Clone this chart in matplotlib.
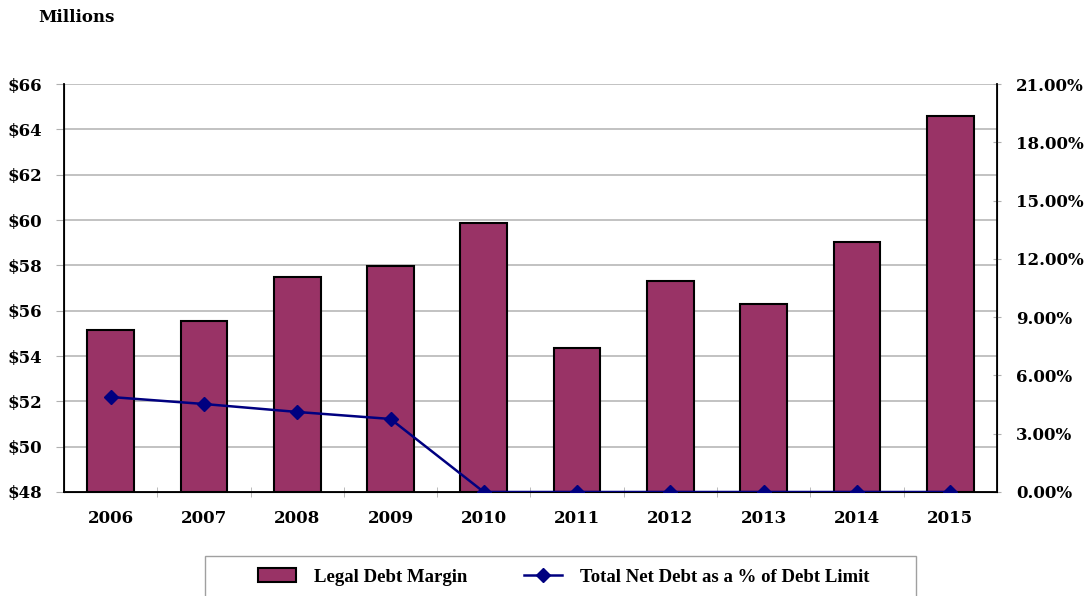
import matplotlib
matplotlib.use('Agg')
import matplotlib.pyplot as plt
from matplotlib.patches import Rectangle
from matplotlib.ticker import FixedLocator

plt.rcParams['font.family'] = 'DejaVu Serif'
plt.rcParams['font.weight'] = 'bold'

years = ['2006', '2007', '2008', '2009', '2010', '2011', '2012', '2013', '2014', '2015']
debt_margin = [55.15, 55.55, 57.48, 57.97, 59.88, 54.35, 57.31, 56.29, 59.03, 64.59]  # $ millions
net_debt_pct = [4.89, 4.53, 4.12, 3.76, 0.0, 0.0, 0.0, 0.0, 0.0, 0.0]  # % of debt limit

bar_color = '#993366'
line_color = '#000080'

fig = plt.figure(figsize=(10.91, 5.96), dpi=100)
ax = fig.add_axes([0.0587, 0.1745, 0.855, 0.6845])

x = list(range(len(years)))

# bars start at 48, the bottom of the axis
ax.bar(x, [v - 48 for v in debt_margin], bottom=48, width=0.5,
       color=bar_color, edgecolor='black', linewidth=1.5, zorder=3,
       label='Legal Debt Margin')
ax.set_ylim(48, 66)
ax.set_xlim(-0.5, len(years) - 0.5)
ax.set_yticks(range(48, 67, 2))
ax.set_yticklabels(['$%d' % v for v in range(48, 67, 2)], fontsize=12, fontweight='bold')
ax.yaxis.grid(True, color='#b8b8b8', linewidth=1.2, zorder=0)
ax.set_axisbelow(True)

ax.set_xticks(x)
ax.set_xticklabels(years, fontsize=12, fontweight='bold')
ax.tick_params(axis='x', which='major', length=0, pad=13)
ax.xaxis.set_minor_locator(FixedLocator([i + 0.5 for i in range(len(years) - 1)]))
ax.tick_params(axis='x', which='minor', length=7, color='#b0b0b0', direction='inout')
ax.tick_params(axis='y', length=6, color='#b0b0b0', pad=10)

ax.spines['top'].set_visible(False)
ax.spines['left'].set_linewidth(1.3)
ax.spines['bottom'].set_linewidth(1.3)

ax2 = ax.twinx()
ax2.plot(x, net_debt_pct, color=line_color, linewidth=1.8, marker='D', markersize=7,
         zorder=5, label='Total Net Debt as a % of Debt Limit')
ax2.set_ylim(0, 21)
ax2.set_yticks(range(0, 22, 3))
ax2.set_yticklabels(['%.2f%%' % v for v in range(0, 22, 3)], fontsize=12, fontweight='bold')
ax2.tick_params(axis='y', length=6, color='#b0b0b0', direction='inout', pad=11)
ax2.spines['top'].set_visible(False)
ax2.spines['right'].set_linewidth(1.3)

fig.text(0.035, 0.97, 'Millions', fontsize=12, fontweight='bold', va='center')

# legend box, partly cut off at the bottom like the original
fig.patches.append(Rectangle((205 / 1091, -0.05), 711 / 1091, 0.05 + 40 / 596,
                             transform=fig.transFigure, facecolor='white',
                             edgecolor='#a0a0a0', linewidth=1))
h1, l1 = ax.get_legend_handles_labels()
h2, l2 = ax2.get_legend_handles_labels()
fig.legend(h1 + h2, l1 + l2, loc='center', bbox_to_anchor=(564 / 1091, 1 - 577 / 596),
           ncol=2, frameon=False, columnspacing=3.0, handlelength=2.0, handletextpad=1.0,
           prop={'family': 'Liberation Serif', 'weight': 'bold', 'size': 13.5})

fig.savefig('out.png', dpi=100)
